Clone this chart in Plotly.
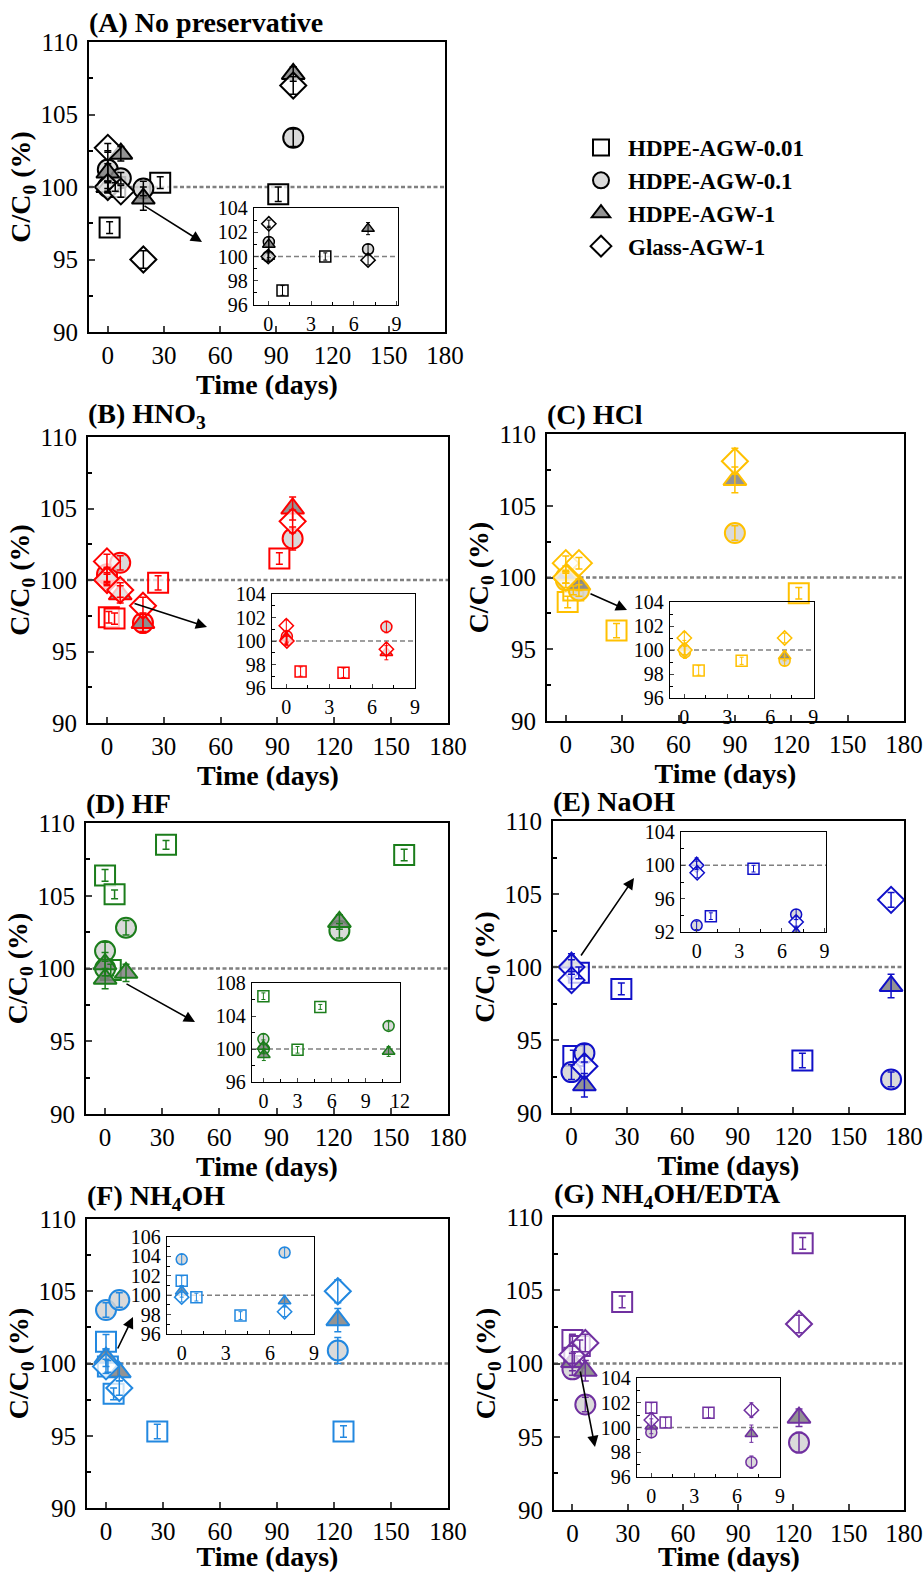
import plotly.graph_objects as go

# ---------------- data: (time in days, C/C0 %, error) ----------------
SERIES_NAMES = ["HDPE-AGW-0.01", "HDPE-AGW-0.1", "HDPE-AGW-1", "Glass-AGW-1"]

A_SQ = [(1, 97.2, 0.4), (4, 100.0, 0.3), (28, 100.3, 0.4), (91, 99.5, 0.5)]
A_CI = [(0, 100.0, 0.4), (0.04, 101.2, 1.3), (7, 100.6, 0.4), (19, 99.9, 0.5), (99, 103.4, 0.6)]
A_TR = [(0, 100.0, 0.4), (0.04, 101.0, 0.6), (7, 102.3, 0.5), (19, 99.2, 0.8), (99, 107.8, 0.5)]
A_DI = [(0, 100.0, 0.3), (0.04, 102.7, 0.3), (7, 99.7, 0.4), (19, 95.0, 0.6), (99, 107.0, 0.6)]

B_SQ = [(1, 97.4, 0.4), (4, 97.3, 0.4), (27, 99.8, 0.5), (91, 101.5, 0.4)]
B_CI = [(0, 100.1, 0.4), (0.04, 100.4, 0.5), (7, 101.2, 0.5), (19, 97.0, 0.6), (98, 102.9, 0.8)]
B_TR = [(0, 100.3, 0.5), (7, 99.0, 0.6), (19, 97.0, 0.7), (98, 105.0, 0.8)]
B_DI = [(0, 101.3, 0.5), (0.04, 100.0, 0.4), (7, 99.3, 0.5), (19, 98.2, 0.6), (98, 104.1, 0.8)]

C_SQ = [(1, 98.3, 0.4), (4, 99.1, 0.3), (27, 96.3, 0.5), (124, 98.9, 0.4)]
C_CI = [(0, 100.0, 0.4), (0.04, 99.8, 0.5), (7, 99.1, 0.4), (90, 103.1, 0.5)]
C_TR = [(0, 100.2, 0.6), (7, 99.5, 0.4), (90, 106.8, 0.9)]
C_DI = [(0, 101.0, 0.5), (0.04, 100.0, 0.4), (7, 101.0, 0.4), (90, 108.1, 0.9)]

D_SQ = [(0, 106.4, 0.4), (3, 99.9, 0.4), (5, 105.1, 0.3), (32, 108.5, 0.3), (157, 107.8, 0.4)]
D_CI = [(0, 101.2, 0.6), (0.04, 100.0, 0.5), (11, 102.8, 0.5), (123, 102.6, 0.5)]
D_TR = [(0, 100.3, 0.8), (0.04, 99.3, 0.7), (11, 99.7, 0.6), (123, 103.2, 0.5)]
D_DI = []

E_SQ = [(1, 93.9, 0.4), (4, 99.6, 0.4), (27, 98.5, 0.4), (125, 93.6, 0.5)]
E_CI = [(0, 92.8, 0.5), (7, 94.1, 0.6), (173, 92.3, 0.5)]
E_TR = [(0, 100.3, 0.6), (7, 91.9, 0.8), (173, 98.7, 0.8)]
E_DI = [(0, 100.0, 0.5), (0.04, 99.1, 0.6), (7, 93.2, 0.7), (173, 104.6, 0.5)]

F_SQ = [(0, 101.5, 0.5), (1, 99.8, 0.4), (4, 97.9, 0.4), (27, 95.3, 0.5), (125, 95.3, 0.4)]
F_CI = [(0, 103.7, 0.5), (7, 104.4, 0.5), (122, 100.9, 0.9)]
F_TR = [(0, 100.4, 0.6), (7, 99.4, 0.6), (122, 103.0, 0.8)]
F_DI = [(0, 99.8, 0.5), (7, 98.3, 0.5), (122, 105.0, 0.8)]

G_SQ = [(0, 101.6, 0.4), (1, 100.4, 0.4), (4, 101.2, 0.4), (27, 104.2, 0.4), (125, 108.2, 0.4)]
G_CI = [(0, 99.6, 0.4), (7, 97.2, 0.5), (123, 94.6, 0.7)]
G_TR = [(0, 100.1, 0.6), (7, 99.5, 0.7), (123, 96.3, 0.6)]
G_DI = [(0, 100.6, 0.6), (7, 101.4, 0.6), (123, 102.7, 0.6)]

MAIN_XTICKS = [0, 30, 60, 90, 120, 150, 180]
MAIN_YTICKS = [90, 95, 100, 105, 110]

# ---------------- layout / style ----------------
W, H = 924, 1572
FONT = "Liberation Serif"
SYMBOLS = ["square", "circle", "triangle-up", "diamond"]
FILLS = ["rgba(255,255,255,0.75)", "rgba(211,211,211,0.85)",
         "rgba(128,128,128,0.85)", "rgba(255,255,255,0.75)"]

# positions below are page pixels (left, right, top, bottom)
PANELS = [
    dict(title="<b>(A) No preservative</b>", data=[A_SQ, A_CI, A_TR, A_DI], color="#000000",
         frame=(89, 445, 42, 332), inset=(254, 398, 208, 305), ixr=[-1, 9.1], iyr=[96, 104],
         iyt=2, ixt=3, arrow=(202, 242, -59, -37)),
    dict(title="<b>(B) HNO<sub>3</sub></b>", data=[B_SQ, B_CI, B_TR, B_DI], color="#ff0000",
         frame=(88, 448, 437, 723), inset=(272, 415, 594, 688), ixr=[-1, 9], iyr=[96, 104],
         iyt=2, ixt=3, arrow=(207, 627, -74, -24)),
    dict(title="<b>(C) HCl</b>", data=[C_SQ, C_CI, C_TR, C_DI], color="#ffc000",
         frame=(547, 904, 434, 721), inset=(670, 814, 602, 698), ixr=[-1, 9.05], iyr=[96, 104],
         iyt=2, ixt=3, arrow=(627, 610, -38, -17)),
    dict(title="<b>(D) HF</b>", data=[D_SQ, D_CI, D_TR, D_DI], color="#1b7d1b",
         frame=(86, 448, 823, 1114), inset=(252, 400, 983, 1082), ixr=[-1, 12], iyr=[96, 108],
         iyt=4, ixt=3, arrow=(195, 1022, -70, -39)),
    dict(title="<b>(E) NaOH</b>", data=[E_SQ, E_CI, E_TR, E_DI], color="#1010c8",
         frame=(553, 904, 821, 1113), inset=(681, 826, 832, 932), ixr=[-1.1, 9.1], iyr=[92, 104],
         iyt=4, ixt=3, arrow=(634, 878, -54, 79)),
    dict(title="<b>(F) NH<sub>4</sub>OH</b>", data=[F_SQ, F_CI, F_TR, F_DI], color="#2288e0",
         frame=(87, 448, 1219, 1508), inset=(167, 314, 1237, 1334), ixr=[-1, 9], iyr=[96, 106],
         iyt=2, ixt=3, arrow=(133, 1317, -16, 33)),
    dict(title="<b>(G) NH<sub>4</sub>OH/EDTA</b>", data=[G_SQ, G_CI, G_TR, G_DI], color="#7030a0",
         frame=(554, 904, 1217, 1510), inset=(637, 780, 1378, 1477), ixr=[-1, 9], iyr=[96, 104],
         iyt=2, ixt=3, arrow=(595, 1447, -15, -77)),
]


def px(x):
    return x / W


def py(y):
    return 1 - y / H


def xdom(l, r):
    return [px(l), px(r)]


def ydom(t, b):
    return [py(b), py(t)]


def ax_id(k):
    return "" if k == 1 else str(k)


fig = go.Figure()
layout = {}
shapes = []
annotations = []

for i, p in enumerate(PANELS):
    m = 2 * i + 1
    n = 2 * i + 2
    mx, my = "x" + ax_id(m), "y" + ax_id(m)
    ix, iy = "x" + ax_id(n), "y" + ax_id(n)
    col = p["color"]
    l, r, t, b = p["frame"]
    il, ir, it, ib = p["inset"]

    # main axes
    layout["xaxis" + ax_id(m)] = dict(
        domain=xdom(l, r), anchor=my, range=[-10, 180], tickvals=MAIN_XTICKS, automargin=False,
        ticks="inside", ticklen=6, tickwidth=2, showline=True, mirror=True, linewidth=2,
        linecolor="black", showgrid=False, zeroline=False, ticklabelstandoff=0,
        tickfont=dict(family=FONT, size=25, color="black"),
        title=dict(text="<b>Time (days)</b>", font=dict(family=FONT, size=28, color="black"), standoff=5),
    )
    layout["yaxis" + ax_id(m)] = dict(
        domain=ydom(t, b), anchor=mx, range=[90, 110], tickvals=MAIN_YTICKS, automargin=False,
        ticks="inside", ticklen=6, tickwidth=2, showline=True, mirror=True, linewidth=2,
        linecolor="black", showgrid=False, zeroline=False, ticklabelstandoff=4,
        minor=dict(dtick=2.5, tick0=90, ticks="inside", ticklen=4, tickwidth=1.5, tickcolor="black"),
        tickfont=dict(family=FONT, size=25, color="black"),
        title=dict(text="<b>C/C<sub>0</sub> (%)</b>", font=dict(family=FONT, size=28, color="black"), standoff=2),
    )
    # inset axes
    layout["xaxis" + ax_id(n)] = dict(
        domain=xdom(il, ir), anchor=iy, range=p["ixr"], dtick=p["ixt"], tick0=0, automargin=False,
        ticks="inside", ticklen=4, tickwidth=1.3, showline=True, mirror=True, linewidth=1.3,
        linecolor="black", showgrid=False, zeroline=False, ticklabelstandoff=1,
        minor=dict(dtick=p["ixt"] / 2, tick0=0, ticks="inside", ticklen=2.5, tickcolor="black"),
        tickfont=dict(family=FONT, size=20, color="black"),
    )
    layout["yaxis" + ax_id(n)] = dict(
        domain=ydom(it, ib), anchor=ix, range=p["iyr"], dtick=p["iyt"], tick0=0, automargin=False,
        ticks="inside", ticklen=4, tickwidth=1.3, showline=True, mirror=True, linewidth=1.3,
        linecolor="black", showgrid=False, zeroline=False, ticklabelstandoff=1,
        minor=dict(dtick=p["iyt"] / 2, tick0=0, ticks="inside", ticklen=2.5, tickcolor="black"),
        tickfont=dict(family=FONT, size=20, color="black"),
    )

    # reference lines at 100 %
    shapes.append(dict(type="line", xref=f"{mx} domain", yref=my, x0=0, x1=1, y0=100, y1=100,
                       line=dict(color="#808080", width=2.6, dash="4px,2.5px"), layer="below"))
    shapes.append(dict(type="line", xref=f"{ix} domain", yref=iy, x0=0, x1=1, y0=100, y1=100,
                       line=dict(color="#808080", width=1.5, dash="5px,3px"), layer="below"))

    # series markers, then error bars drawn on top
    for ax_x, ax_y, inset in ((mx, my, False), (ix, iy, True)):
        size = 11 if inset else 20
        lw = 1.5 if inset else 2
        for k, pts in enumerate(p["data"]):
            sel = [q for q in pts if (not inset or q[0] <= p["ixr"][1])]
            if not sel:
                continue
            fig.add_trace(go.Scatter(
                x=[q[0] for q in sel], y=[q[1] for q in sel], xaxis=ax_x, yaxis=ax_y, mode="markers",
                name=SERIES_NAMES[k], showlegend=(i == 0 and not inset),
                marker=dict(symbol=SYMBOLS[k], size=size, color=FILLS[k], line=dict(color=col, width=lw)),
            ))
        for k, pts in enumerate(p["data"]):
            sel = [q for q in pts if (not inset or q[0] <= p["ixr"][1])]
            if not sel:
                continue
            fig.add_trace(go.Scatter(
                x=[q[0] for q in sel], y=[q[1] for q in sel], xaxis=ax_x, yaxis=ax_y, mode="markers",
                name=SERIES_NAMES[k] + " error", showlegend=False, hoverinfo="skip",
                marker=dict(size=1, color="rgba(0,0,0,0)"),
                error_y=dict(type="data", array=[q[2] for q in sel], color=col,
                             thickness=1 if inset else 1.5, width=2 if inset else 3.5),
            ))

    # panel title
    annotations.append(dict(text=p["title"], xref="paper", yref="paper", x=px(l - 2), y=py(t - 2),
                            xanchor="left", yanchor="bottom", showarrow=False,
                            font=dict(family=FONT, size=28, color="black")))
    # arrow to inset
    hx, hy, ax, ay = p["arrow"]
    annotations.append(dict(text="", xref="paper", yref="paper", x=px(hx), y=py(hy),
                            ax=ax, ay=ay, showarrow=True, arrowhead=2, arrowsize=1.4,
                            arrowwidth=1.6, arrowcolor="black"))

fig.update_layout(
    width=W, height=H, margin=dict(l=0, r=0, t=0, b=0, autoexpand=False),
    paper_bgcolor="white", plot_bgcolor="rgba(0,0,0,0)",
    shapes=shapes, annotations=annotations,
    legend=dict(x=px(574), y=py(126), xanchor="left", yanchor="top",
                font=dict(family=FONT, size=23, color="black", weight="bold"),
                bgcolor="rgba(0,0,0,0)", itemsizing="trace", tracegroupgap=0, itemwidth=44),
    **layout,
)

fig.write_html(
    "out.html",
    config={"displayModeBar": False},
    post_script="document.body.style.margin='0';document.body.style.overflow='hidden';",
)
